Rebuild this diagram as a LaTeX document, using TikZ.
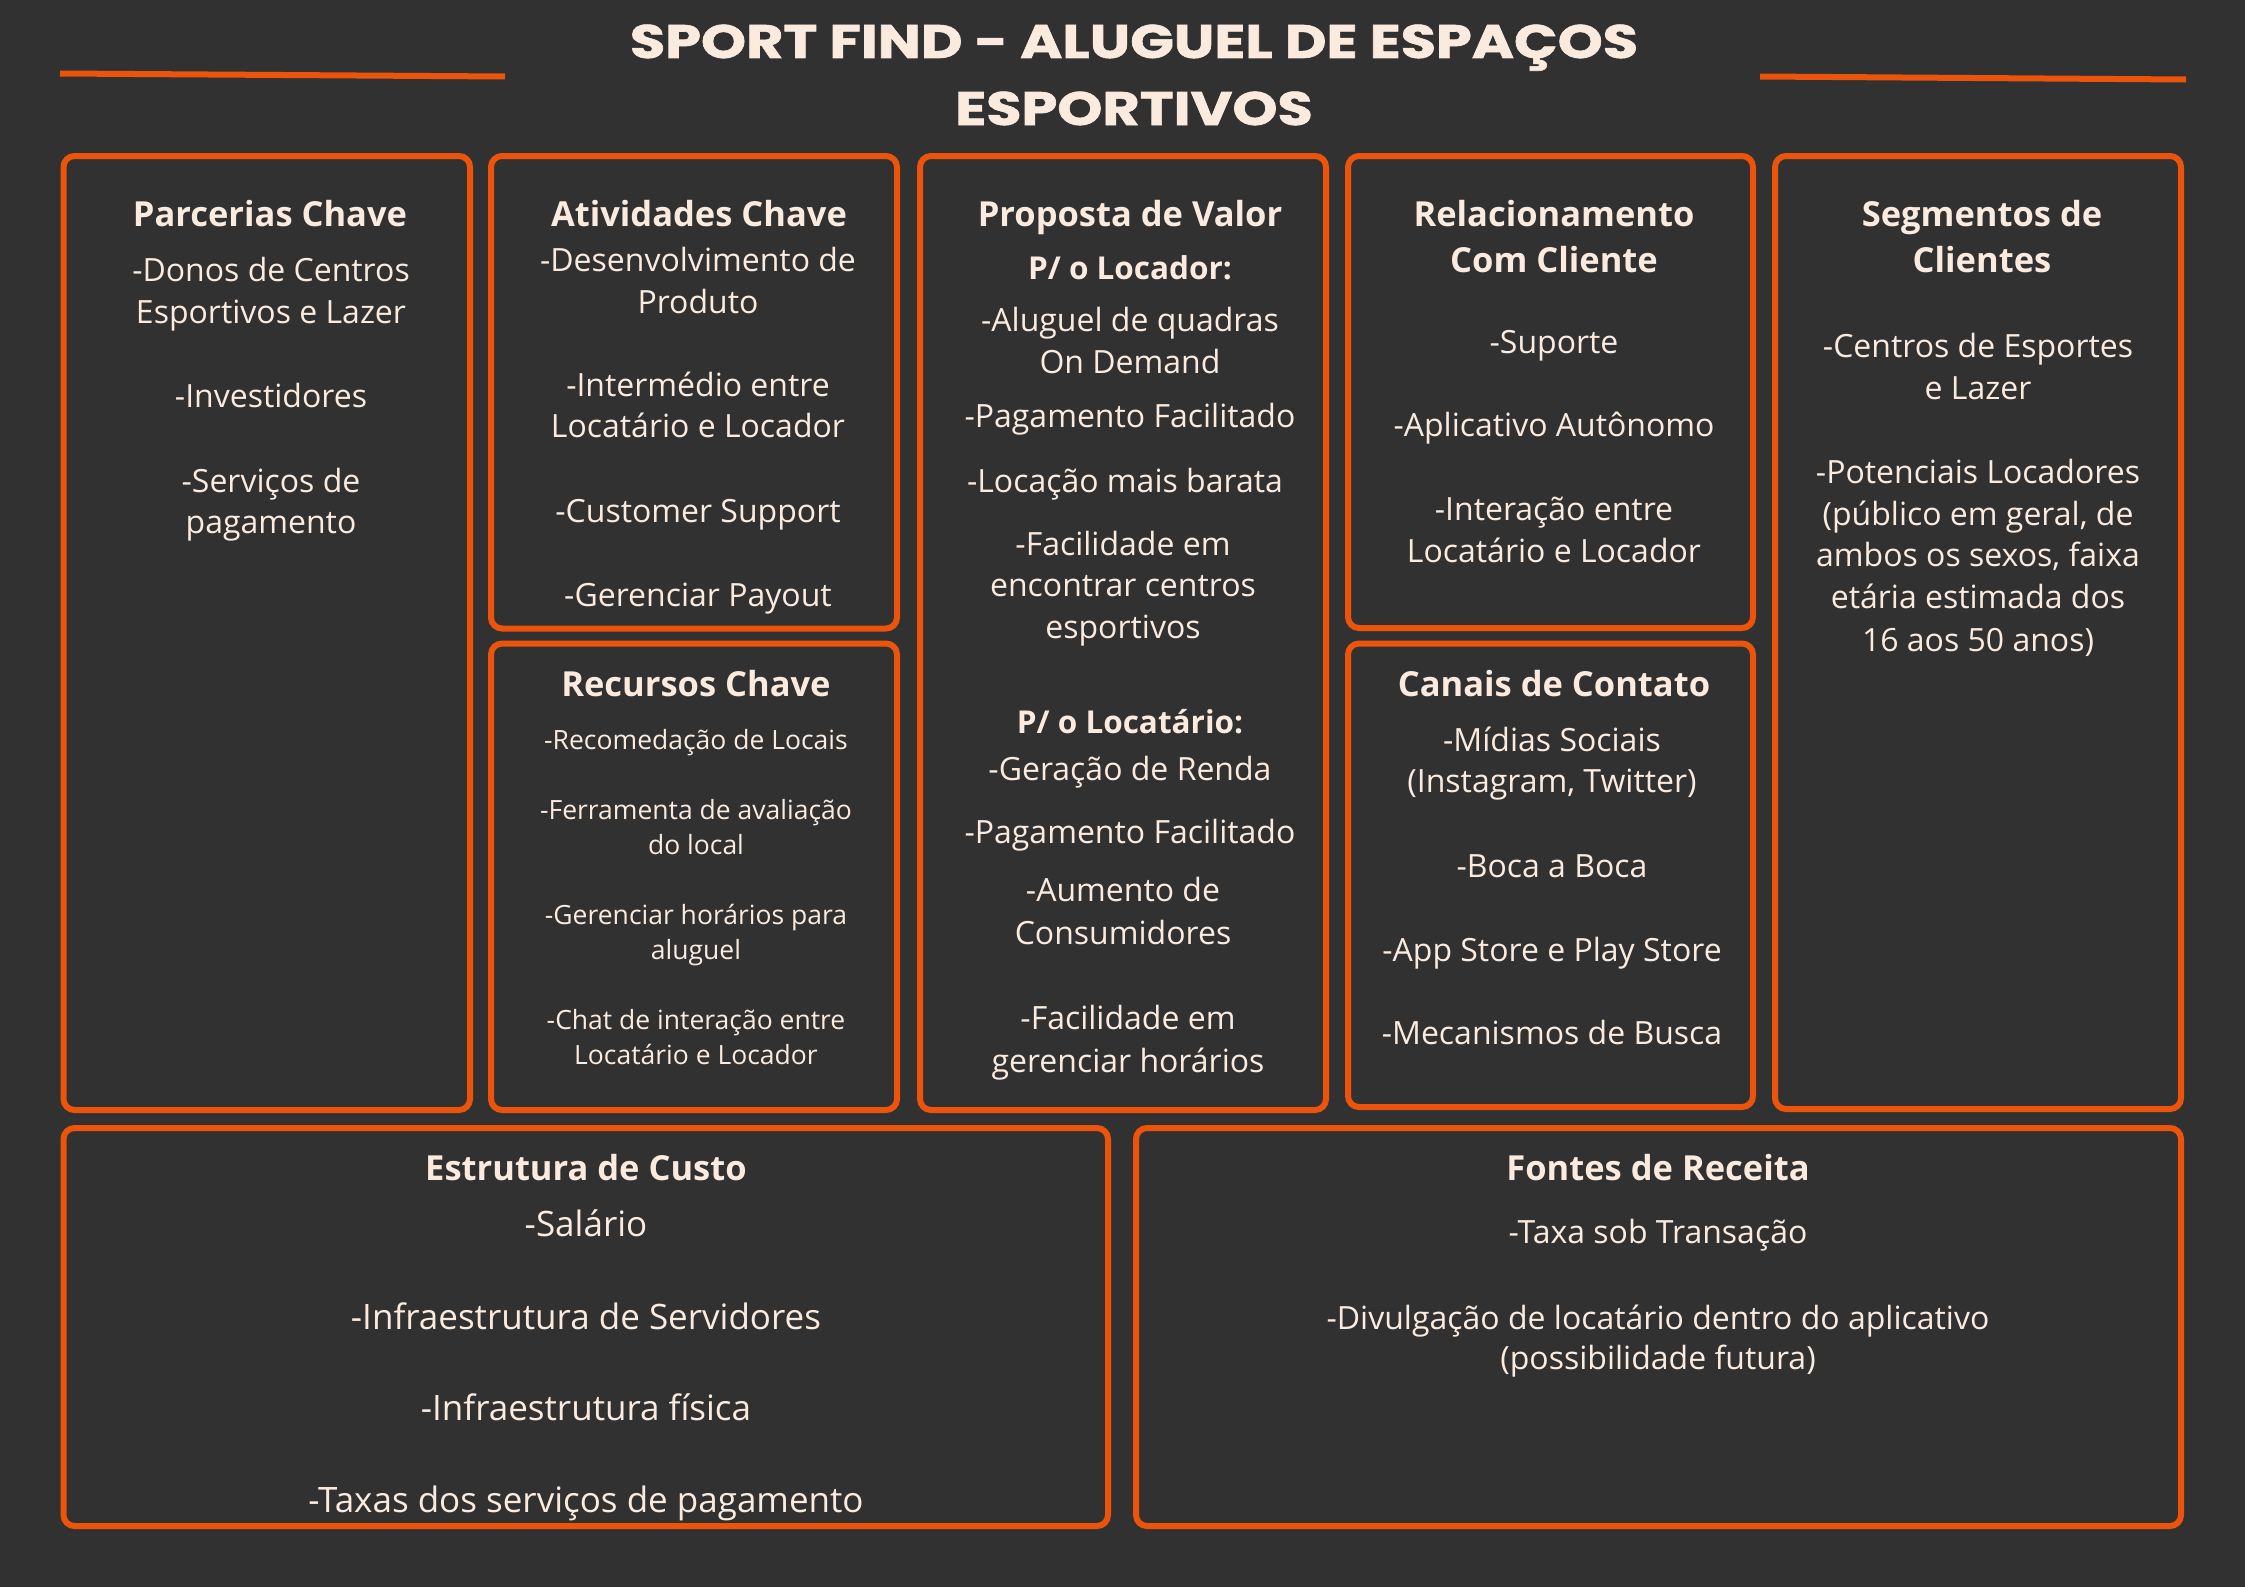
\documentclass[tikz,border=0pt]{standalone}
\usepackage{fontspec}
\setmainfont{Open Sans}
\newfontfamily\titlefont{Poppins}[BoldFeatures={FakeBold=1.2}]
\definecolor{bg}{RGB}{49,49,49}
\definecolor{orng}{RGB}{236,84,12}
\definecolor{cream}{RGB}{250,235,222}
\tikzset{
  panel/.style={draw=orng, line width=6pt, rounded corners=11pt, inner sep=0pt, outer sep=0pt},
  headtxt/.style={text=cream, inner sep=0pt, anchor=base, font=\bfseries\fontsize{34.5}{46}\selectfont},
  subtxt/.style={text=cream, inner sep=0pt, anchor=base, font=\bfseries\fontsize{31.5}{42}\selectfont},
  bodytxt/.style={text=cream, inner sep=0pt, anchor=base, font=\fontsize{32}{42}\selectfont},
  smalltxt/.style={text=cream, inner sep=0pt, anchor=base, font=\fontsize{26.5}{35}\selectfont},
  bigtxt/.style={text=cream, inner sep=0pt, anchor=base, font=\fontsize{35}{46}\selectfont},
  titletxt/.style={text=cream, inner sep=0pt, anchor=base, font=\titlefont\bfseries\fontsize{47}{50}\selectfont},
  rule/.style={draw=orng, line width=6pt}
}
\newcommand\panelnode[5]{\node[panel, minimum width={#4-#2}, minimum height={#5-#3}] (#1) at ({(#2+#4)/2},{(#3+#5)/2}) {};}
\newcommand\txt[5]{\node[#1] (#2) at (#3,#4) {#5};}
\newcommand\wide[1]{\scalebox{1.22}[1]{#1}}
\begin{document}
\begin{tikzpicture}[x=1pt,y=-1pt]
\fill[bg] (0,0) rectangle (2245,1587);
\useasboundingbox (0,0) rectangle (2245,1587);
% title
\txt{titletxt}{t1}{1134}{58}{\wide{SPORT FIND - ALUGUEL DE ESPAÇOS}}
\txt{titletxt}{t2}{1134}{125}{\wide{ESPORTIVOS}}
\coordinate (l1a) at (60,73.5); \coordinate (l1b) at (505,76.5);
\coordinate (l2a) at (1760,76.5); \coordinate (l2b) at (2186,79.5);
\draw[rule] (l1a) -- (l1b);
\draw[rule] (l2a) -- (l2b);
% panels
\panelnode{pk}{63.5}{156}{470}{1110}
\panelnode{ak}{491}{156}{897}{628.5}
\panelnode{rk}{491}{643.5}{897}{1110}
\panelnode{vp}{920}{156}{1326}{1110}
\panelnode{rc}{1348}{156}{1753}{628}
\panelnode{cc}{1348}{643.5}{1753}{1107}
\panelnode{sc}{1775}{156}{2181}{1109}
\panelnode{ec}{63.5}{1128}{1108}{1526}
\panelnode{fr}{1136}{1128}{2181}{1526}
\begin{scope}[yshift=-3pt]
% Parcerias
\txt{headtxt}{p0}{270}{223}{Parcerias Chave}
\txt{bodytxt}{p1}{271}{278}{-Donos de Centros}
\txt{bodytxt}{p2}{271}{320}{Esportivos e Lazer}
\txt{bodytxt}{p3}{271}{404}{-Investidores}
\txt{bodytxt}{p4}{271}{489}{-Serviços de}
\txt{bodytxt}{p5}{271}{530}{pagamento}
% Atividades
\txt{headtxt}{a0}{699}{223}{Atividades Chave}
\txt{bodytxt}{a1}{698}{268}{-Desenvolvimento de}
\txt{bodytxt}{a2}{698}{310}{Produto}
\txt{bodytxt}{a3}{698}{393}{-Intermédio entre}
\txt{bodytxt}{a4}{698}{434}{Locatário e Locador}
\txt{bodytxt}{a5}{698}{519}{-Customer Support}
\txt{bodytxt}{a6}{698}{603}{-Gerenciar Payout}
% Proposta
\txt{headtxt}{v0}{1130}{223}{Proposta de Valor}
\txt{subtxt}{v1}{1130}{276}{P/ o Locador:}
\txt{bodytxt}{v2}{1130}{328}{-Aluguel de quadras}
\txt{bodytxt}{v3}{1130}{370}{On Demand}
\txt{bodytxt}{v4}{1130}{424}{-Pagamento Facilitado}
\txt{bodytxt}{v5}{1125}{489}{-Locação mais barata}
\txt{bodytxt}{v6}{1123}{552}{-Facilidade em}
\txt{bodytxt}{v7}{1123}{593}{encontrar centros}
\txt{bodytxt}{v8}{1123}{635}{esportivos}
\txt{subtxt}{v9}{1130}{730}{P/ o Locatário:}
\txt{bodytxt}{v10}{1130}{777}{-Geração de Renda}
\txt{bodytxt}{v11}{1130}{840}{-Pagamento Facilitado}
\txt{bodytxt}{v12}{1123}{898}{-Aumento de}
\txt{bodytxt}{v13}{1123}{941}{Consumidores}
\txt{bodytxt}{v14}{1128}{1026}{-Facilidade em}
\txt{bodytxt}{v15}{1128}{1069}{gerenciar horários}
% Relacionamento
\txt{headtxt}{c0}{1554}{223}{Relacionamento}
\txt{headtxt}{c1}{1554}{269}{Com Cliente}
\txt{bodytxt}{c2}{1554}{350}{-Suporte}
\txt{bodytxt}{c3}{1554}{433}{-Aplicativo Autônomo}
\txt{bodytxt}{c4}{1554}{517}{-Interação entre}
\txt{bodytxt}{c5}{1554}{559}{Locatário e Locador}
% Segmentos
\txt{headtxt}{s0}{1982}{223}{Segmentos de}
\txt{headtxt}{s1}{1982}{269}{Clientes}
\txt{bodytxt}{s2}{1978}{354}{-Centros de Esportes}
\txt{bodytxt}{s3}{1978}{396}{e Lazer}
\txt{bodytxt}{s4}{1978}{480}{-Potenciais Locadores}
\txt{bodytxt}{s5}{1978}{522}{(público em geral, de}
\txt{bodytxt}{s6}{1978}{563}{ambos os sexos, faixa}
\txt{bodytxt}{s7}{1978}{605}{etária estimada dos}
\txt{bodytxt}{s8}{1978}{648}{16 aos 50 anos)}
\end{scope}
\begin{scope}[yshift=-1.5pt]
% Recursos
\txt{headtxt}{r0}{696}{695}{Recursos Chave}
\txt{smalltxt}{r1}{696}{748}{-Recomedação de Locais}
\txt{smalltxt}{r2}{696}{818}{-Ferramenta de avaliação}
\txt{smalltxt}{r3}{696}{853}{do local}
\txt{smalltxt}{r4}{696}{923}{-Gerenciar horários para}
\txt{smalltxt}{r5}{696}{958}{aluguel}
\txt{smalltxt}{r6}{696}{1028}{-Chat de interação entre}
\txt{smalltxt}{r7}{696}{1063}{Locatário e Locador}
% Canais
\txt{headtxt}{k0}{1554}{695}{Canais de Contato}
\txt{bodytxt}{k1}{1552}{750}{-Mídias Sociais}
\txt{bodytxt}{k2}{1552}{791}{(Instagram, Twitter)}
\txt{bodytxt}{k3}{1552}{876}{-Boca a Boca}
\txt{bodytxt}{k4}{1552}{960}{-App Store e Play Store}
\txt{bodytxt}{k5}{1552}{1043}{-Mecanismos de Busca}
% Estrutura
\txt{headtxt}{e0}{586}{1179}{Estrutura de Custo}
\txt{bigtxt}{e1}{586}{1235}{-Salário}
\txt{bigtxt}{e2}{586}{1328}{-Infraestrutura de Servidores}
\txt{bigtxt}{e3}{586}{1419}{-Infraestrutura física}
\txt{bigtxt}{e4}{586}{1511}{-Taxas dos serviços de pagamento}
% Fontes
\txt{headtxt}{f0}{1658}{1179}{Fontes de Receita}
\txt{bodytxt}{f1}{1658}{1242}{-Taxa sob Transação}
\txt{bodytxt}{f2}{1658}{1328}{-Divulgação de locatário dentro do aplicativo}
\txt{bodytxt}{f3}{1658}{1368}{(possibilidade futura)}
\end{scope}
\end{tikzpicture}
\end{document}
